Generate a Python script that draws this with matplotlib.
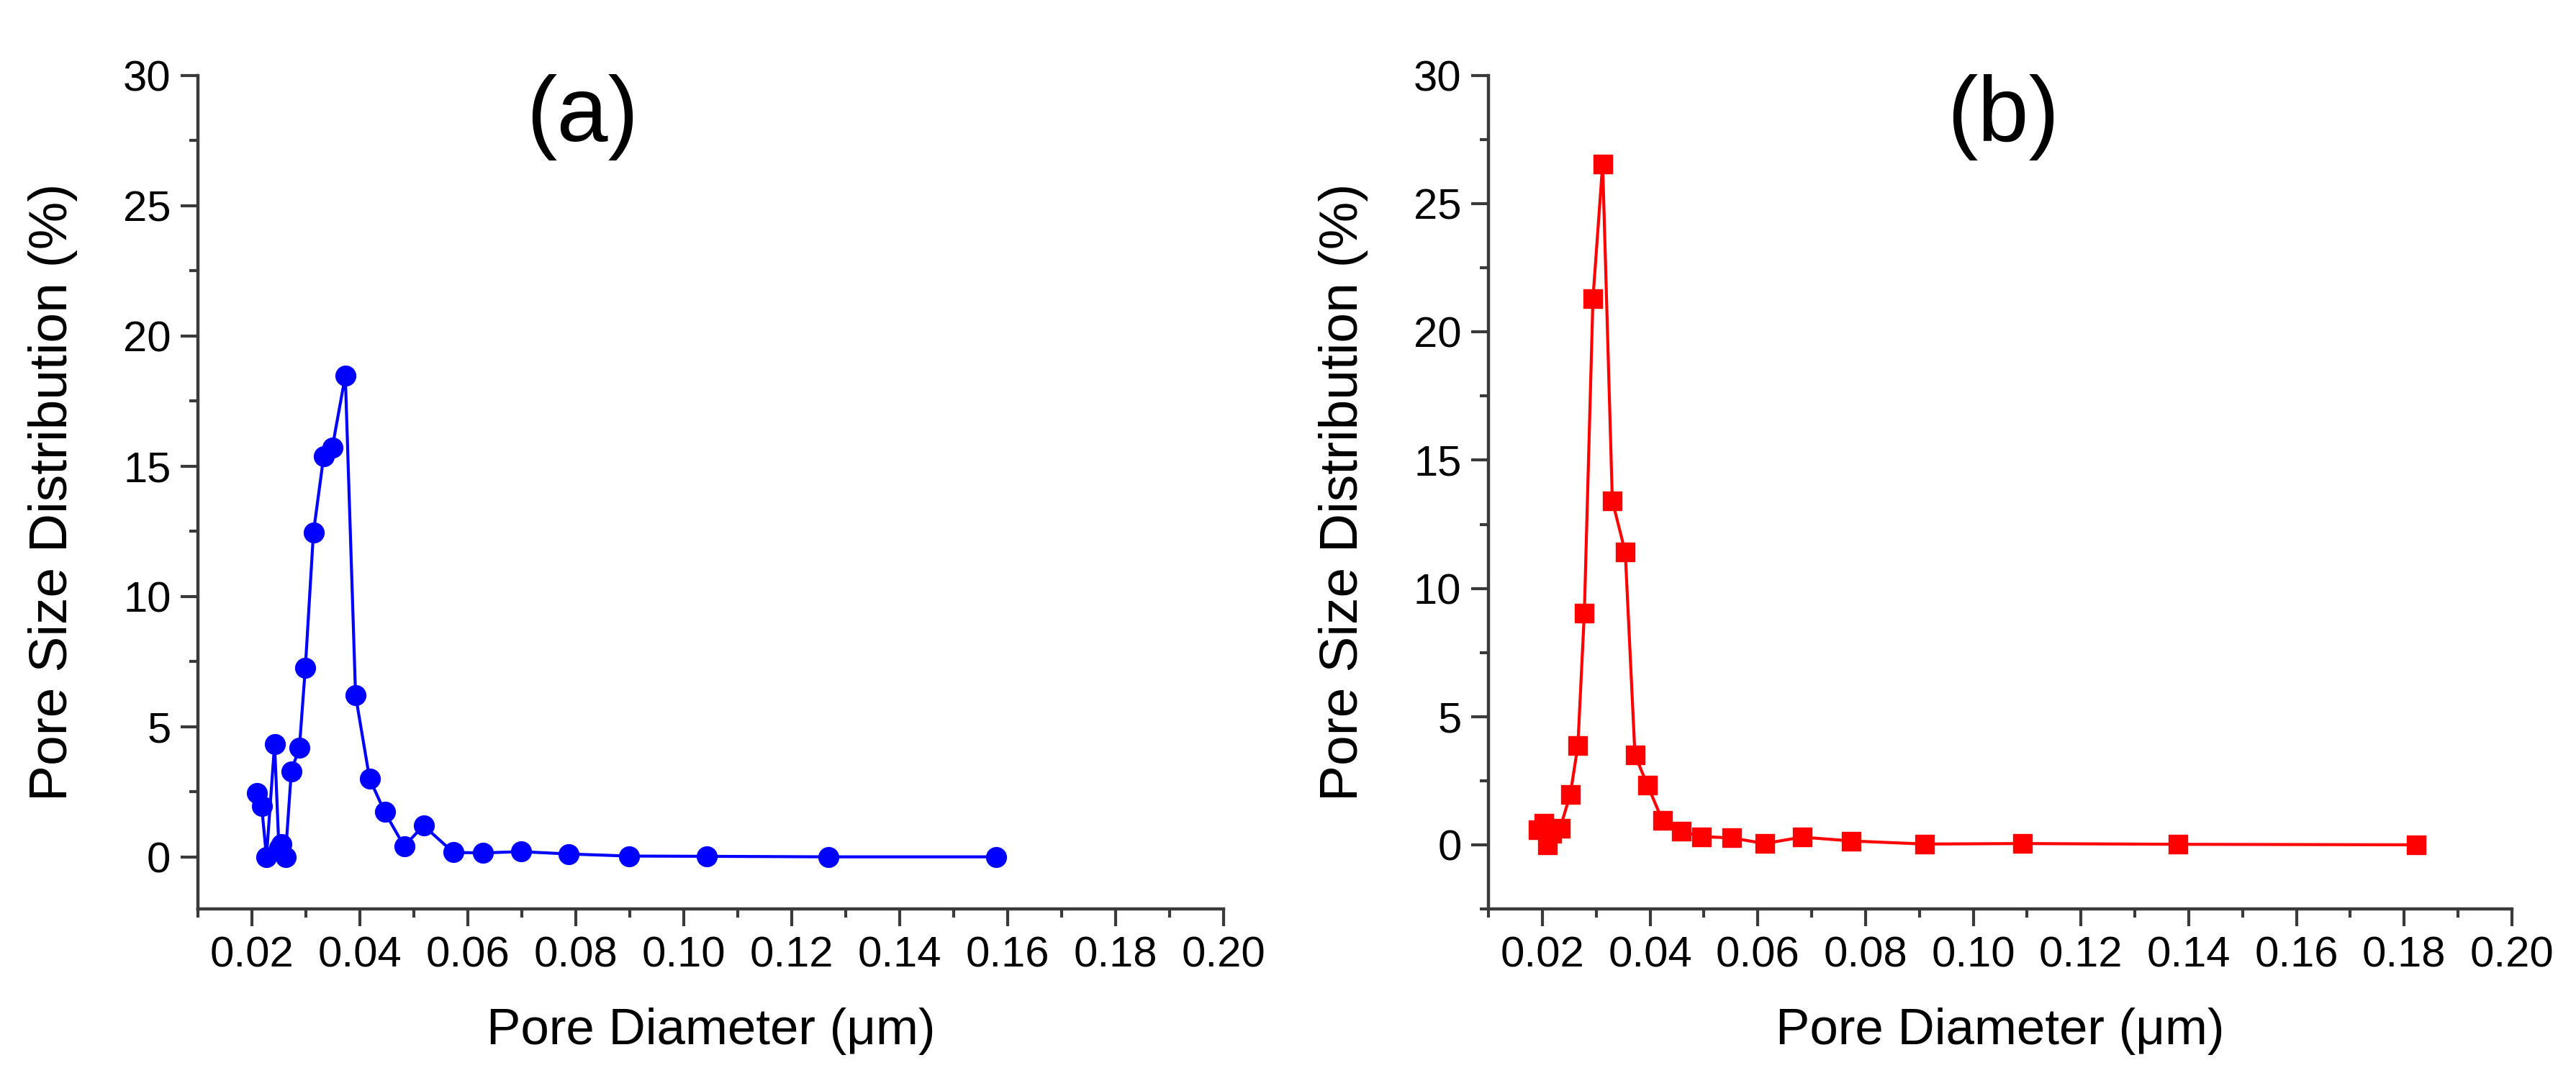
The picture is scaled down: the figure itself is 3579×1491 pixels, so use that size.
import numpy as np
import matplotlib
matplotlib.use("Agg")
import matplotlib.pyplot as plt
from matplotlib.ticker import MultipleLocator, FormatStrFormatter

plt.rcParams['font.family'] = ['Liberation Sans', 'DejaVu Sans']

# panel (a)
diam_a = [0.0209, 0.0218, 0.0227, 0.0242, 0.0250, 0.0255, 0.0262, 0.0273, 0.0288,
          0.0299, 0.0314, 0.0333, 0.0349, 0.0373, 0.0392, 0.0418, 0.0446, 0.0482,
          0.0518, 0.0573, 0.0628, 0.0698, 0.0787, 0.0898, 0.1042, 0.1268, 0.1579]
psd_a = [2.46, 1.95, 0.0, 4.33, 0.35, 0.5, 0.0, 3.29, 4.2,
         7.27, 12.45, 15.39, 15.72, 18.48, 6.2, 3.0, 1.72, 0.41,
         1.2, 0.17, 0.15, 0.2, 0.11, 0.03, 0.02, 0.0, 0.0]

# panel (b)
diam_b = [0.0192, 0.0203, 0.0210, 0.0218, 0.0233, 0.0252, 0.0266, 0.0278, 0.0294,
          0.0312, 0.0330, 0.0354, 0.0372, 0.0395, 0.0423, 0.0458, 0.0496, 0.0551,
          0.0613, 0.0682, 0.0774, 0.0910, 0.1092, 0.1380, 0.1822]
psd_b = [0.6, 0.85, 0.0, 0.45, 0.65, 1.97, 3.87, 9.03, 21.3,
         26.56, 13.42, 11.41, 3.5, 2.34, 0.95, 0.53, 0.32, 0.27,
         0.05, 0.3, 0.15, 0.03, 0.05, 0.02, 0.0]

W, H = 3579, 1491
fig = plt.figure(figsize=(W / 100, H / 100), dpi=100)

def make_axes(left_px, right_px, ymin):
    ax = fig.add_axes([left_px / W, (H - 1263) / H, (right_px - left_px) / W, (1263 - 105) / H])
    ax.set_xlim(0.01, 0.20)
    ax.set_ylim(ymin, 30)
    for s in ['top', 'right']:
        ax.spines[s].set_visible(False)
    for s in ['left', 'bottom']:
        ax.spines[s].set_linewidth(3.2)
        ax.spines[s].set_color('#3a3a3a')
    ax.xaxis.set_major_locator(MultipleLocator(0.02))
    ax.xaxis.set_minor_locator(MultipleLocator(0.01))
    ax.xaxis.set_major_formatter(FormatStrFormatter('%.2f'))
    ax.yaxis.set_major_locator(MultipleLocator(5))
    ax.yaxis.set_minor_locator(MultipleLocator(2.5))
    ax.tick_params(which='major', direction='out', length=17, width=3, color='#3a3a3a',
                   labelsize=43, pad=10)
    ax.tick_params(which='minor', direction='out', length=8.5, width=3, color='#3a3a3a')
    ax.set_xlabel('Pore Diameter (\u03bcm)', fontsize=51, labelpad=32)
    ax.set_ylabel('Pore Size Distribution (%)', fontsize=54, labelpad=45)
    return ax

ax1 = make_axes(275, 1700, -2)
ax1.plot(diam_a, psd_a, color='#0000ff', lw=3, marker='o', ms=20, clip_on=False)
ax1.text(0.375, 0.95, '(a)', transform=ax1.transAxes, fontsize=92,
         ha='center', va='center')

ax2 = make_axes(2068, 3490, -2.5)
ax2.plot(diam_b, psd_b, color='#ff0000', lw=3, marker='s', ms=19, clip_on=False)
ax2.text(0.503, 0.95, '(b)', transform=ax2.transAxes, fontsize=92,
         ha='center', va='center')

fig.savefig('out.png', dpi=100)
